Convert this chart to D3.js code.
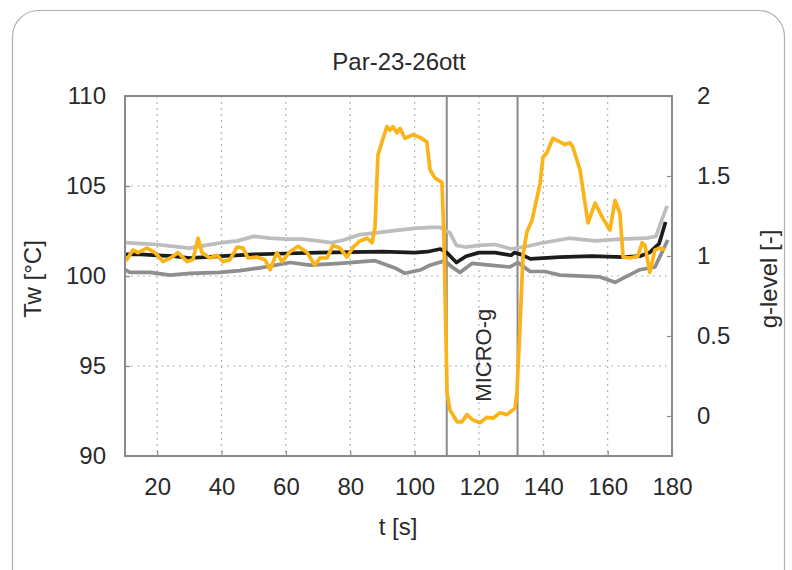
<!DOCTYPE html>
<html>
<head>
<meta charset="utf-8">
<script src="https://cdn.jsdelivr.net/npm/d3@7"></script>
<style>
  body { margin: 0; background: #fff; }
  svg text { font-family: "Liberation Sans Narrow", "Arial Narrow", "Liberation Sans", sans-serif; fill: #2a2a2a; }
</style>
</head>
<body>
<svg id="chart" width="792" height="570"></svg>
<script>
// axis ticks
const xTicks = [20, 40, 60, 80, 100, 120, 140, 160, 180];
const yTicks = [90, 95, 100, 105, 110];
const gTicks = [0, 0.5, 1, 1.5, 2];
const gTickLabels = ["0", "0.5", "1", "1.5", "2"];

// start / end of the micro-g phase [s]
const microG = [110, 132];

// wall temperature (orange)
const wallT = [10, 10.5, 12.5, 14, 16.8, 19.3, 21.8, 24.6, 26.5, 29.3, 31.1, 32.7, 33.9, 36.4, 38.6, 40.5, 42.6, 44.8, 46.7, 48.2, 51, 53.5, 55.1, 57.2, 58.8, 61.3, 63.8, 66.6, 69, 70.6, 72.8, 74.6, 76.8, 79, 80.9, 83, 85.2, 86.8, 87.7, 88.6, 90.2, 91.4, 92.3, 93.3, 94.5, 95.5, 97, 99.5, 101.7, 103.8, 104.8, 106.3, 108.5, 109.1, 110.1, 111, 113.2, 114.7, 116.3, 118.1, 120.3, 122.5, 124.4, 126.5, 128.7, 131.2, 131.8, 132.7, 133.7, 134.9, 136.5, 139, 139.9, 141.1, 143, 145.2, 146.7, 148.3, 149.2, 151.4, 153.9, 156.1, 158.5, 160.7, 162.3, 163.8, 164.8, 166.9, 169.4, 170.7, 171.6, 173.1, 174.7, 176.3, 177.9];
const wallTemp = [101.0, 100.9, 101.45, 101.3, 101.55, 101.3, 100.8, 101.05, 101.3, 100.8, 100.9, 102.1, 101.3, 101.0, 101.15, 100.8, 100.9, 101.6, 101.55, 101.0, 101.05, 100.9, 100.35, 101.3, 100.8, 101.35, 101.65, 101.3, 100.6, 101.0, 101.0, 101.7, 101.55, 101.05, 101.6, 101.95, 102.1, 101.85, 102.7, 106.7, 107.65, 108.3, 108.1, 108.3, 107.95, 108.2, 107.65, 107.85, 107.7, 107.45, 105.9, 105.45, 105.2, 102.3, 93.5, 92.55, 91.9, 91.9, 92.3, 92.0, 91.85, 92.15, 92.1, 92.4, 92.3, 92.65, 93.5, 97.0, 101.15, 102.45, 103.1, 105.15, 106.6, 106.85, 107.65, 107.45, 107.3, 107.4, 107.15, 105.9, 102.95, 104.05, 103.2, 102.55, 104.2, 103.5, 101.05, 101.0, 101.1, 101.85, 101.7, 100.2, 101.45, 101.55, 101.45];

// black trace
const blackT = [10, 15, 20, 25, 30, 35, 40, 50, 60, 70, 80, 90, 100, 104, 108, 110, 113, 116, 120, 125, 130, 131, 133, 136, 145, 155, 165, 170, 173, 176, 178];
const blackTemp = [101.2, 101.2, 101.15, 101.1, 101.0, 101.05, 101.1, 101.2, 101.25, 101.3, 101.33, 101.35, 101.3, 101.35, 101.5, 101.3, 100.75, 101.1, 101.3, 101.3, 101.15, 101.3, 101.2, 100.95, 101.05, 101.1, 101.05, 101.1, 101.3, 101.8, 103.0];

// light grey trace
const lightT = [10, 15, 20, 25, 30, 35, 40, 45, 50, 55, 60, 65, 70, 74, 78, 83, 88, 95, 100, 105, 108, 111, 113, 116, 120, 125, 130, 135, 140, 148, 156, 164, 172, 175, 177, 178.5];
const lightTemp = [101.85, 101.8, 101.75, 101.65, 101.55, 101.7, 101.85, 101.95, 102.2, 102.1, 102.05, 102.05, 101.95, 101.85, 102.0, 102.3, 102.4, 102.55, 102.65, 102.7, 102.7, 102.4, 101.7, 101.6, 101.7, 101.75, 101.5, 101.65, 101.85, 102.1, 101.95, 102.05, 102.1, 102.2, 103.2, 103.9];

// dark grey trace
const darkT = [10, 11.5, 17.8, 24, 30.2, 39.5, 45.7, 52, 61.3, 67.5, 76.8, 87.7, 93.9, 97, 101.7, 104.8, 109.4, 111.6, 114.1, 117.8, 123.4, 129.6, 132.1, 135.9, 140.5, 145.2, 157.6, 162.3, 170, 174.7, 178.7];
const darkTemp = [100.35, 100.2, 100.2, 100.05, 100.15, 100.2, 100.3, 100.45, 100.75, 100.6, 100.7, 100.85, 100.45, 100.15, 100.33, 100.6, 100.85, 100.5, 100.2, 100.7, 100.6, 100.5, 100.75, 100.25, 100.25, 100.05, 99.95, 99.65, 100.35, 100.5, 102.0];

const svg = d3.select("#chart");
const margin = { left: 125, right: 120, top: 96, bottom: 114 };
const width = 792 - margin.left - margin.right;
const height = 570 - margin.top - margin.bottom;

// outer rounded frame
svg.append("rect")
  .attr("x", 12.5).attr("y", 10.5)
  .attr("width", 772).attr("height", 600)
  .attr("rx", 26)
  .attr("fill", "none")
  .attr("stroke", "#b0b0b0")
  .attr("stroke-width", 1.2);

const g = svg.append("g").attr("transform", `translate(${margin.left},${margin.top})`);

const x = d3.scaleLinear().domain([10, 180]).range([0, width]);
const y = d3.scaleLinear().domain([90, 110]).range([height, 0]);
const yG = d3.scaleLinear().domain([-0.25, 2]).range([height, 0]);

// dotted grid
g.selectAll(".vgrid").data(xTicks.filter(d => d < 180)).join("line")
  .attr("x1", d => x(d)).attr("x2", d => x(d))
  .attr("y1", 0).attr("y2", height)
  .attr("stroke", "#b5b5b5").attr("stroke-width", 1.2)
  .attr("stroke-dasharray", "2,4");
g.selectAll(".hgrid").data(yTicks.filter(d => d > 90 && d < 110)).join("line")
  .attr("x1", 0).attr("x2", width)
  .attr("y1", d => y(d)).attr("y2", d => y(d))
  .attr("stroke", "#b5b5b5").attr("stroke-width", 1.2)
  .attr("stroke-dasharray", "2,4");

// axes, ticks pointing inward
const fs = 24;
const xAxis = g.append("g").attr("transform", `translate(0,${height})`)
  .call(d3.axisBottom(x).tickValues(xTicks).tickSizeInner(-5).tickSizeOuter(0).tickPadding(22));
const yAxis = g.append("g")
  .call(d3.axisLeft(y).tickValues(yTicks).tickSizeInner(-5).tickSizeOuter(0).tickPadding(19));
const gAxis = g.append("g").attr("transform", `translate(${width},0)`)
  .call(d3.axisRight(yG).tickValues(gTicks).tickFormat((d, i) => gTickLabels[i]).tickSizeInner(-5).tickSizeOuter(0).tickPadding(25));

[xAxis, yAxis, gAxis].forEach(a => {
  a.select(".domain").remove();
  a.selectAll(".tick line").attr("stroke", "#888").attr("stroke-width", 1.2);
  a.selectAll(".tick text").attr("font-size", fs).attr("fill", "#2a2a2a");
});

// micro-g markers
g.selectAll(".mg").data(microG).join("line")
  .attr("x1", d => x(d)).attr("x2", d => x(d))
  .attr("y1", 0).attr("y2", height)
  .attr("stroke", "#8a8a8a").attr("stroke-width", 2);

// the traces
const line = d3.line().x(d => x(d[0])).y(d => y(d[1]));
const traces = [
  { t: darkT, v: darkTemp, color: "#8e8e8e" },
  { t: lightT, v: lightTemp, color: "#bdbdbd" },
  { t: blackT, v: blackTemp, color: "#1c1c1c" },
  { t: wallT, v: wallTemp, color: "#fbb417" },
];
traces.forEach(s => {
  g.append("path")
    .datum(d3.zip(s.t, s.v))
    .attr("d", line)
    .attr("fill", "none")
    .attr("stroke", s.color)
    .attr("stroke-width", 3.7)
    .attr("stroke-linejoin", "round");
});

// plot box
g.append("rect")
  .attr("width", width).attr("height", height)
  .attr("fill", "none")
  .attr("stroke", "#8a8a8a").attr("stroke-width", 2);

// labels
g.append("text")
  .attr("transform", `translate(${x(121.8)},${y(95.6)}) rotate(-90)`)
  .attr("text-anchor", "middle").attr("dominant-baseline", "middle")
  .attr("font-size", 22).text("MICRO-g");

svg.append("text").attr("x", 399).attr("y", 64)
  .attr("text-anchor", "middle").attr("dominant-baseline", "middle")
  .attr("font-size", 24).text("Par-23-26ott");

svg.append("text").attr("x", 398).attr("y", 529)
  .attr("text-anchor", "middle").attr("dominant-baseline", "middle")
  .attr("font-size", fs).text("t [s]");

svg.append("text")
  .attr("transform", "translate(35,279) rotate(-90)")
  .attr("text-anchor", "middle").attr("dominant-baseline", "middle")
  .attr("font-size", fs).text("Tw [°C]");

svg.append("text")
  .attr("transform", "translate(771,279) rotate(-90)")
  .attr("text-anchor", "middle").attr("dominant-baseline", "middle")
  .attr("font-size", fs).text("g-level [-]");
</script>
</body>
</html>
